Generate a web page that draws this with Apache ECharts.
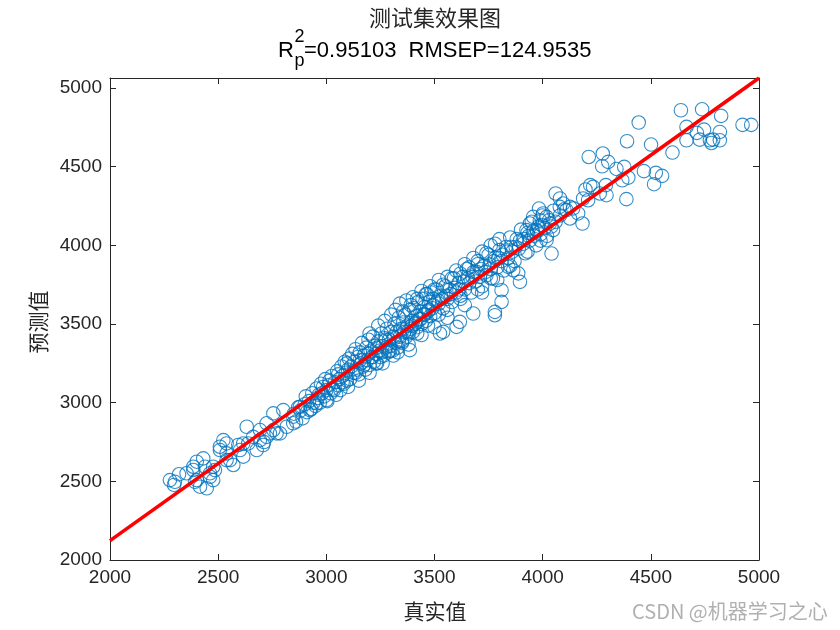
<!DOCTYPE html>
<html>
<head>
<meta charset="utf-8">
<script src="https://cdn.jsdelivr.net/npm/echarts@6/dist/echarts.min.js"></script>
<style>html,body{margin:0;padding:0;background:#fff;}#c{width:840px;height:630px;}</style>
</head>
<body>
<div id="c"></div>
<script>
// ---- data (true value, predicted value) ----
const pointsLow = [
[2277,2508],[2300,2497],[2296,2477],[2319,2545],[2354,2551],[2385,2572],[2385,2593],[2393,2497],
[2401,2508],[2401,2625],[2416,2466],[2431,2646],[2439,2593],[2447,2456],[2462,2529],[2462,2551],
[2477,2508],[2477,2593],[2485,2572],[2508,2699],[2508,2720],[2524,2762],[2539,2678],[2539,2741],
[2539,2635],[2555,2635],[2570,2604],[2593,2731],[2601,2699],[2616,2657],[2616,2741],[2632,2847],
[2639,2741],[2662,2783],[2678,2699],[2693,2762],[2693,2826],[2708,2731],[2712,2750],[2724,2783],
[2724,2869],[2739,2805],[2755,2826],[2755,2932],[2770,2805],[2786,2805],[2801,2953],[2817,2847],
[2847,2869],[2847,2911],[2878,2974],[2924,2953],[2955,2996],[3001,3017]
];
const pointsMidLow = [
[2850,2930],[2860,2880],[2870,2970],[2880,2950],[2890,2900],[2900,2990],[2905,3040],[2910,2940],
[2920,3010],[2930,2960],[2935,3060],[2940,3000],[2950,2980],[2955,3090],[2960,3030],[2970,3000],
[2975,3120],[2980,3060],[2990,3040],[2995,3150],[3000,3080],[3005,3010],[3010,3110],[3020,3060],
[3025,3170],[3030,3090],[3040,3130],[3045,3050],[3050,3200],[3055,3110],[3060,3150],[3065,3080],
[3070,3230],[3075,3170],[3080,3120],[3085,3260],[3090,3190],[3095,3140],[3100,3210],[3100,3100],
[2965,3050],[2985,3100],[3015,3140],[3035,3080],[3055,3180],[3075,3130],[3095,3250]
];
const pointsMid = [
[3105,3280],[3110,3150],[3115,3230],[3120,3310],[3125,3190],[3130,3260],[3135,3340],[3140,3210],
[3145,3290],[3150,3180],[3155,3320],[3160,3250],[3165,3380],[3170,3230],[3175,3300],[3180,3210],
[3185,3350],[3190,3270],[3195,3400],[3200,3240],[3205,3330],[3210,3290],[3215,3420],[3220,3260],
[3225,3360],[3230,3310],[3235,3250],[3240,3390],[3245,3330],[3250,3290],[3255,3440],[3260,3360],
[3265,3300],[3270,3410],[3275,3350],[3280,3470],[3285,3320],[3290,3400],[3295,3360],[3300,3450],
[3305,3330],[3310,3420],[3315,3500],[3320,3380],[3325,3450],[3330,3350],[3335,3540],[3340,3420],
[3345,3470],[3350,3390],[3355,3510],[3360,3450],[3365,3560],[3370,3420],[3375,3490],[3380,3440],
[3385,3590],[3390,3470],[3395,3520],[3400,3450],[3405,3600],[3410,3500],[3415,3550],[3420,3480],
[3425,3640],[3430,3530],[3435,3580],[3440,3500],[3445,3660],[3450,3560],[3455,3610],[3460,3520],
[3465,3690],[3470,3580],[3475,3640],[3480,3550],[3485,3700],[3490,3600],[3495,3660],[3500,3570],
[3510,3720],[3520,3630],[3530,3680],[3540,3600],[3550,3740],[3560,3660],[3570,3720],[3580,3640],
[3590,3790],[3600,3700],
[3135,3190],[3155,3270],[3175,3240],[3195,3310],[3215,3290],[3235,3350],[3255,3320],[3275,3400],
[3295,3330],[3315,3410],[3335,3390],[3355,3470],[3375,3450],[3395,3490],[3415,3510],[3435,3530],
[3455,3560],[3475,3590],[3495,3620],[3515,3650],[3535,3660],[3555,3680],[3575,3690],[3595,3730],
[3230,3250],[3290,3330],[3350,3380],[3420,3440],[3470,3490],[3520,3560],[3560,3590]
];
const pointsSpread = [
[3200,3440],[3240,3490],[3270,3520],[3300,3560],[3320,3590],[3340,3630],[3355,3580],[3370,3650],
[3390,3620],[3400,3670],[3420,3660],[3440,3710],[3460,3690],[3480,3740],[3500,3720],[3520,3780],
[3540,3750],[3560,3800],[3580,3790],[3600,3840],[3620,3820],[3640,3880],[3660,3860],[3680,3920],
[3700,3900],[3720,3960],[3740,3950],[3760,4000],[3780,4010],[3800,4040],
[3150,3140],[3200,3190],[3260,3250],[3310,3300],[3330,3320],[3380,3370],[3440,3430],[3500,3480],
[3560,3540],[3640,3620],[3720,3700],[3790,3780]
];
const pointsHigh = [
[3610,3760],[3620,3680],[3630,3800],[3640,3720],[3650,3850],[3660,3760],[3670,3700],[3680,3830],
[3690,3770],[3700,3880],[3710,3800],[3720,3740],[3730,3870],[3740,3810],[3750,3940],[3760,3850],
[3770,3790],[3780,3920],[3790,3860],[3800,3970],[3810,3900],[3820,3840],[3830,3990],[3840,3920],
[3850,4050],[3860,3960],[3870,3900],[3880,4040],[3890,3980],[3900,4100],[3910,4010],[3920,3950],
[3930,4080],[3940,4030],[3950,4150],[3960,4060],[3970,4000],[3980,4120],[3990,4070],[4000,4190],
[4010,4110],[4020,4060],[4030,4160],[4040,4120],[4050,4220],[4060,4150],[4080,4190],[4100,4230],
[3615,3720],[3635,3770],[3655,3790],[3675,3800],[3695,3830],[3715,3850],[3735,3830],[3755,3880],
[3775,3900],[3795,3920],[3815,3940],[3835,3960],[3855,3990],[3875,3990],[3895,4030],[3915,4040],
[3935,4060],[3955,4090],[3975,4090],[3995,4130],
[3620,3660],[3700,3720],[3760,3790],[3850,3870],[3930,3960],[3990,4030],
[3386,3334],[3525,3440],[3540,3450],[3602,3482],[3617,3514],[3679,3567],[3779,3577],[3779,3556],
[3810,3641],[3810,3715],[3895,3768],[3887,3822],[3864,3842],[3841,3864],[4041,3948],[4018,4033]
];
const pointsTop = [
[3983,4234],[4002,4203],[3956,4181],[3941,4139],[3987,4160],[4033,4139],[4048,4097],[3972,4097],
[3925,4097],[4018,4181],[4079,4245],[4110,4224],
[4060,4330],[4080,4298],[4095,4266],[4126,4245],[4141,4235],[4164,4203],[4184,4139],[4126,4171],
[4187,4298],[4210,4287],[4198,4355],[4220,4383],[4233,4372],[4292,4383],[4295,4319],[4264,4330],
[4387,4294],[4213,4562],[4278,4584],[4303,4531],[4275,4503],[4341,4486],[4377,4499],[4396,4431],
[4368,4414],[4468,4472],[4523,4461],[4552,4442],[4515,4389],[4390,4662],[4501,4641],[4600,4590],
[4444,4781],[4639,4859],[4737,4865],[4825,4823],[4924,4766],[4964,4766],[4665,4753],[4713,4715],
[4746,4736],[4819,4721],[4665,4668],[4726,4672],[4773,4668],[4788,4672],[4819,4668],[4780,4651]
];
const fitLineX = [2000, 5000];
const fitLineY = [2123, 5064];
const xRange = [2000, 5000];
const yRange = [2000, 5064];
const tickStep = 500;
const titleLine1 = '测试集效果图';
const r2Text = '=0.95103  RMSEP=124.9535';
const xName = '真实值';
const yName = '预测值';

const allPoints = pointsLow.concat(pointsMidLow, pointsMid, pointsSpread, pointsHigh, pointsTop);
const fitLine = fitLineX.map((x, i) => [x, fitLineY[i]]);

const axisColor = '#262626';
const latin = '"Liberation Sans", Arial, sans-serif';
const cjk = '"Noto Sans CJK SC", sans-serif';

function axisCommon(showLabel) {
  return {
    axisLine: { show: true, onZero: false, lineStyle: { color: axisColor, width: 1 } },
    axisTick: { show: true, inside: true, length: 6, lineStyle: { color: axisColor, width: 1 } },
    splitLine: { show: false },
    axisLabel: {
      show: showLabel, color: axisColor, fontFamily: latin, fontSize: 19,
      formatter: v => (v % tickStep === 0 ? String(v) : '')
    }
  };
}

const chart = echarts.init(document.getElementById('c'), null, { renderer: 'canvas' });
chart.setOption({
  animation: false,
  backgroundColor: '#ffffff',
  grid: { left: 110, right: 81, top: 78, bottom: 70, containLabel: false },
  xAxis: [
    Object.assign(axisCommon(true), { type: 'value', position: 'bottom', min: xRange[0], max: xRange[1], interval: tickStep }),
    Object.assign(axisCommon(false), { type: 'value', position: 'top', min: xRange[0], max: xRange[1], interval: tickStep })
  ],
  yAxis: [
    Object.assign(axisCommon(true), { type: 'value', position: 'left', min: yRange[0], max: yRange[1], interval: tickStep }),
    Object.assign(axisCommon(false), { type: 'value', position: 'right', min: yRange[0], max: yRange[1], interval: tickStep })
  ],
  series: [
    {
      type: 'scatter', xAxisIndex: 0, yAxisIndex: 0, data: allPoints, silent: true,
      symbol: 'circle', symbolSize: 13.5,
      itemStyle: { color: 'rgba(0,0,0,0)', borderColor: '#0072BD', borderWidth: 1.1 }
    },
    {
      type: 'line', xAxisIndex: 0, yAxisIndex: 0, data: fitLine, silent: true, symbol: 'none',
      lineStyle: { color: '#FF0000', width: 3.6 }, z: 5
    }
  ]
});
chart.setOption({
  graphic: [
    { type: 'text', x: 435, y: 18, style: { text: titleLine1, font: '22px ' + cjk, fill: '#262626', align: 'center', verticalAlign: 'middle' } },
    { type: 'text', x: 278, y: 51, style: { text: 'R', font: '22px ' + latin, fill: '#000', align: 'left', verticalAlign: 'middle' } },
    { type: 'text', x: 294.5, y: 37, style: { text: '2', font: '18px ' + latin, fill: '#000', align: 'left', verticalAlign: 'middle' } },
    { type: 'text', x: 294.5, y: 61, style: { text: 'p', font: '18px ' + latin, fill: '#000', align: 'left', verticalAlign: 'middle' } },
    { type: 'text', x: 304, y: 51, style: { text: r2Text, font: '22px ' + latin, fill: '#000', align: 'left', verticalAlign: 'middle' } },
    { type: 'text', x: 435, y: 611, style: { text: xName, font: '21px ' + cjk, fill: axisColor, align: 'center', verticalAlign: 'middle' } },
    { type: 'text', x: 38, y: 322, rotation: Math.PI / 2, style: { text: yName, font: '21px ' + cjk, fill: axisColor, align: 'center', verticalAlign: 'middle' } },
    { type: 'text', x: 632, y: 611, style: { text: 'CSDN @机器学习之心', font: '20px ' + cjk, fill: 'rgba(150,150,150,0.75)', align: 'left', verticalAlign: 'middle' } }
  ]
});
</script>
</body>
</html>
